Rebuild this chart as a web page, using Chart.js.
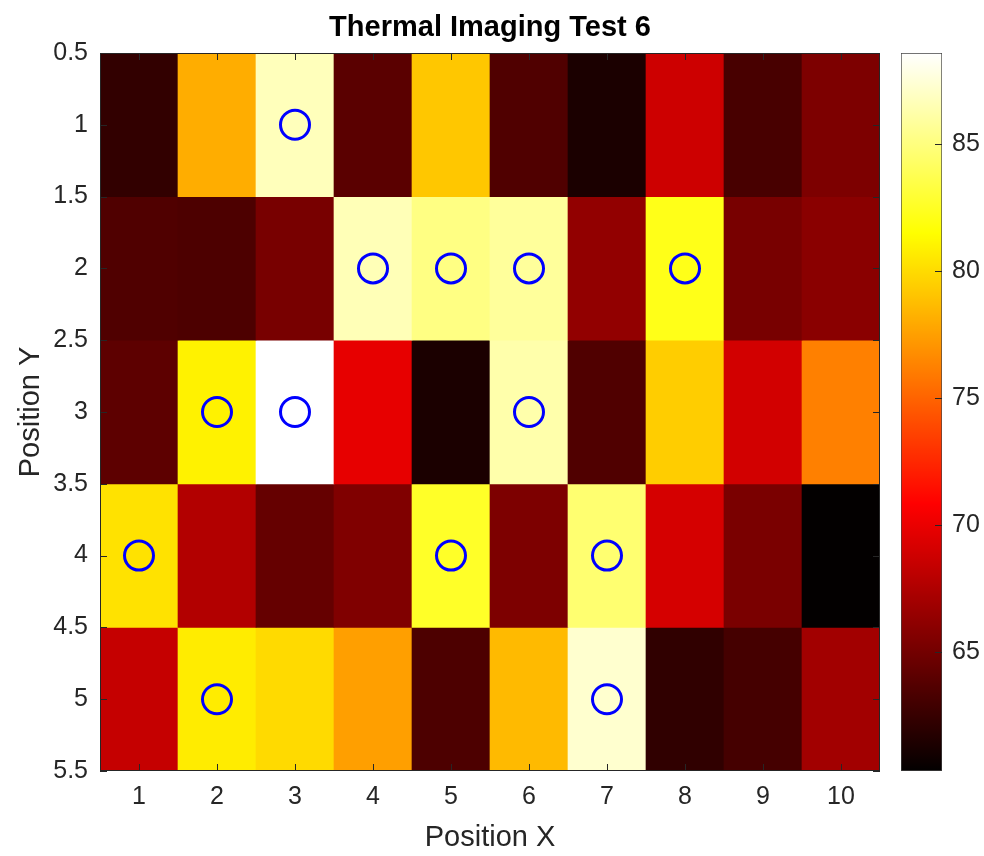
<!DOCTYPE html>
<html>
<head>
<meta charset="utf-8">
<title>Thermal Imaging Test 6</title>
<script src="https://cdn.jsdelivr.net/npm/chart.js@4.4.1/dist/chart.umd.min.js"></script>
<style>
  body { margin: 0; background: #fff; }
  #wrap { position: relative; width: 984px; height: 856px; }
  #wrap canvas { position: absolute; left: 0; top: 0; }
</style>
</head>
<body>
<div id="wrap">
  <canvas id="heat" width="984" height="856"></canvas>
  <canvas id="bar" width="984" height="856"></canvas>
</div>
<script>
// grid positions
const xLabels = ['1', '2', '3', '4', '5', '6', '7', '8', '9', '10'];
const yRows = [1, 2, 3, 4, 5];

// temperatures per row
const tempRow1 = [62.4, 78.0, 86.7, 64.0, 79.2, 63.6, 61.4, 68.8, 63.2, 65.4];
const tempRow2 = [63.6, 63.5, 65.2, 86.5, 85.1, 85.8, 66.3, 82.1, 65.2, 66.0];
const tempRow3 = [64.1, 80.9, 88.6, 69.9, 61.3, 86.2, 63.6, 79.4, 69.0, 76.2];
const tempRow4 = [80.2, 67.6, 64.5, 65.5, 82.6, 65.4, 84.6, 69.1, 65.3, 60.3];
const tempRow5 = [68.4, 80.7, 79.9, 77.5, 63.4, 78.6, 87.2, 62.2, 63.1, 67.0];

// cells above this get a ring
const threshold = 80;
const colorTicks = [65, 70, 75, 80, 85];

const rows = [tempRow1, tempRow2, tempRow3, tempRow4, tempRow5];
const allTemps = rows.flat();
const cMin = Math.min(...allTemps);
const cMax = Math.max(...allTemps);

const tickColor = '#262626';
Chart.defaults.font.family = "'Liberation Sans', Arial, sans-serif";

// matlab "hot", 256 levels
function hotIndex(i) {
    const r = Math.min(1, (i + 1) / 96);
    const g = Math.min(1, Math.max(0, (i + 1 - 96) / 96));
    const b = Math.min(1, Math.max(0, (i + 1 - 192) / 64));
    return `rgb(${Math.round(r * 255)},${Math.round(g * 255)},${Math.round(b * 255)})`;
}
function hot(v) {
    const t = (v - cMin) / (cMax - cMin);
    return hotIndex(Math.min(255, Math.max(0, Math.floor(t * 256))));
}

// box + inward tick marks
const frame = {
    id: 'frame',
    afterDatasetsDraw(chart, args, opts) {
        const { ctx, chartArea: a } = chart;
        const len = 7;
        ctx.save();
        ctx.strokeStyle = opts.color;
        ctx.lineWidth = 1;
        if (opts.box) ctx.strokeRect(a.left + 0.5, a.top + 0.5, a.width - 1, a.height - 1);
        ctx.beginPath();
        if (opts.xTicks) {
            const xs = chart.scales.x;
            xs.ticks.forEach((t, i) => {
                const px = Math.round(xs.getPixelForTick(i)) + 0.5;
                ctx.moveTo(px, a.bottom); ctx.lineTo(px, a.bottom - len);
                ctx.moveTo(px, a.top); ctx.lineTo(px, a.top + len);
            });
        }
        const ys = chart.scales.y;
        ys.ticks.forEach(t => {
            const py = Math.round(ys.getPixelForValue(t.value)) + 0.5;
            if (opts.leftTicks) { ctx.moveTo(a.left, py); ctx.lineTo(a.left + len, py); }
            ctx.moveTo(a.right, py); ctx.lineTo(a.right - len, py);
        });
        ctx.stroke();
        ctx.restore();
    }
};

const cellSets = rows.map((vals, k) => ({
    type: 'bar',
    data: vals.map(() => [yRows[k] - 0.5, yRows[k] + 0.5]),
    backgroundColor: vals.map(hot),
    borderWidth: 0,
    barPercentage: 1,
    categoryPercentage: 1,
    grouped: false,
    order: 2
}));

const hotSpots = [];
rows.forEach((vals, k) => vals.forEach((v, j) => {
    if (v > threshold) hotSpots.push({ x: xLabels[j], y: yRows[k] });
}));

const rings = {
    type: 'line',
    data: hotSpots,
    showLine: false,
    pointRadius: 14.5,
    pointHoverRadius: 14.5,
    pointBorderWidth: 3,
    pointBorderColor: '#0000ff',
    pointBackgroundColor: 'rgba(0,0,0,0)',
    order: 1
};

new Chart(document.getElementById('heat'), {
    type: 'bar',
    data: { labels: xLabels, datasets: [...cellSets, rings] },
    options: {
        responsive: false,
        animation: false,
        layout: { padding: { right: 104 } },
        plugins: {
            legend: { display: false },
            tooltip: { enabled: false },
            frame: { color: tickColor, box: true, xTicks: true, leftTicks: true }
        },
        scales: {
            x: {
                offset: true,
                grid: { display: false, drawTicks: false },
                border: { display: false },
                ticks: { color: tickColor, font: { size: 25 }, padding: 11, maxRotation: 0 },
                title: { display: true, text: 'Position X', color: tickColor, font: { size: 29 }, padding: { top: 0, bottom: 1 } },
                afterFit: s => { s.height = 85; }
            },
            xTop: {
                type: 'category',
                position: 'top',
                grid: { display: false, drawTicks: false },
                border: { display: false },
                ticks: { display: false },
                title: { display: true, text: 'Thermal Imaging Test 6', color: '#000', font: { size: 29, weight: 'bold' }, padding: { top: 11, bottom: 0 } },
                afterFit: s => { s.height = 53; }
            },
            y: {
                type: 'linear',
                reverse: true,
                min: 0.5,
                max: 5.5,
                grid: { display: false, drawTicks: false },
                border: { display: false },
                ticks: { stepSize: 0.5, color: tickColor, font: { size: 25 }, padding: 12, callback: v => String(v) },
                title: { display: true, text: 'Position Y', color: tickColor, font: { size: 29 }, padding: { top: 14, bottom: 0 } },
                afterFit: s => { s.width = 100; }
            }
        }
    },
    plugins: [frame]
});

// colour bar
new Chart(document.getElementById('bar'), {
    type: 'bar',
    data: {
        labels: [''],
        datasets: [{
            data: [[cMin, cMax]],
            backgroundColor: c => {
                const chart = c.chart;
                if (!chart.chartArea) return null;
                const ys = chart.scales.y;
                const g = chart.ctx.createLinearGradient(0, ys.getPixelForValue(cMin), 0, ys.getPixelForValue(cMax));
                for (let i = 0; i < 256; i++) g.addColorStop(i / 255, hotIndex(i));
                return g;
            },
            borderColor: '#444',
            borderWidth: 1,
            borderSkipped: false,
            barPercentage: 1,
            categoryPercentage: 1
        }]
    },
    options: {
        responsive: false,
        animation: false,
        layout: { padding: { left: 901, top: 53, bottom: 85, right: 0 } },
        plugins: {
            legend: { display: false },
            tooltip: { enabled: false },
            frame: { color: tickColor, box: false, xTicks: false, leftTicks: false }
        },
        scales: {
            x: { display: false },
            y: {
                position: 'right',
                min: cMin,
                max: cMax,
                afterBuildTicks: s => { s.ticks = colorTicks.map(v => ({ value: v })); },
                grid: { display: false, drawTicks: false },
                border: { display: false },
                ticks: { color: tickColor, font: { size: 25 }, padding: 10 },
                afterFit: s => { s.width = 42; }
            }
        }
    },
    plugins: [frame]
});
</script>
</body>
</html>
